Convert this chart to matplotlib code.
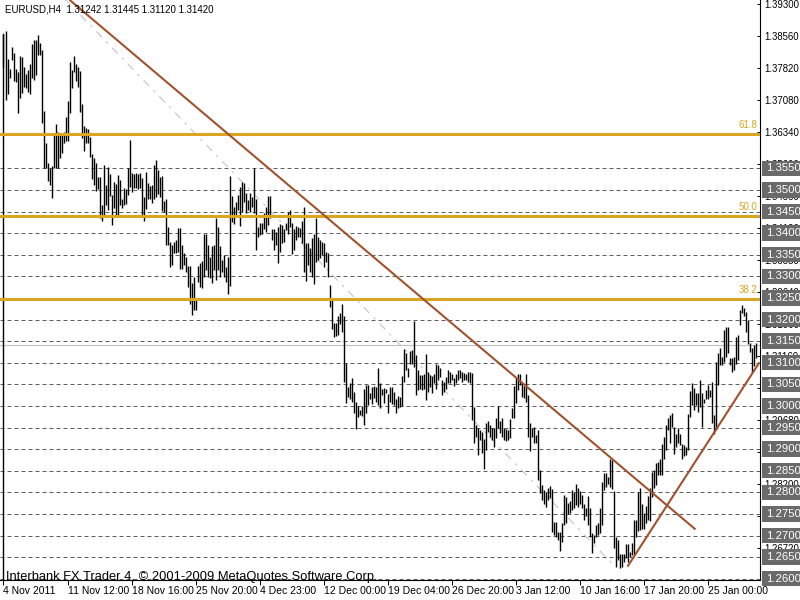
import matplotlib.pyplot as plt
import matplotlib.transforms as mtransforms
from matplotlib.patches import Rectangle
import numpy as np

plt.rcParams['font.family'] = ['Liberation Sans', 'DejaVu Sans']

# EURUSD H4 bars (high / low of each bar)
symbol = "EURUSD,H4"
last_bar = [1.31242, 1.31445, 1.31120, 1.31420]  # open high low close

high = [
    # 4 Nov - 15 Nov
    1.3862, 1.3868, 1.3803, 1.3781, 1.3830, 1.3818, 1.3781, 1.3774, 1.3811, 1.3808,
    1.3785, 1.3768, 1.3778, 1.3791, 1.3837, 1.3846, 1.3847, 1.3859, 1.3839, 1.3824,
    1.3683, 1.3608, 1.3563, 1.3550, 1.3555, 1.3631, 1.3653, 1.3633, 1.3632, 1.3631,
    1.3635, 1.3669, 1.3706, 1.3795, 1.3778, 1.3810, 1.3791, 1.3785, 1.3775, 1.3699,
    1.3648, 1.3644, 1.3641, 1.3622, 1.3583, 1.3573, 1.3563, 1.3531, 1.3531, 1.3465,
    1.3558, 1.3511, 1.3554, 1.3537, 1.3488, 1.3519, 1.3514, 1.3534, 1.3524, 1.3480,
    1.3505, 1.3501, 1.3550, 1.3615, 1.3540, 1.3536, 1.3538, 1.3537, 1.3540, 1.3527,
    1.3484, 1.3542, 1.3515, 1.3509,
    # late Nov - early Dec
    1.3511, 1.3558, 1.3569, 1.3546, 1.3531, 1.3532, 1.3475, 1.3480, 1.3415, 1.3380,
    1.3372, 1.3379, 1.3384, 1.3411, 1.3411, 1.3372, 1.3353, 1.3345, 1.3324, 1.3324,
    1.3284, 1.3299, 1.3245, 1.3324, 1.3330, 1.3336, 1.3398, 1.3398, 1.3372, 1.3345,
    1.3369, 1.3372, 1.3436, 1.3413, 1.3370, 1.3338, 1.3349, 1.3322, 1.3345, 1.3532,
    1.3486, 1.3461, 1.3473, 1.3488, 1.3507, 1.3519, 1.3515, 1.3492, 1.3477, 1.3492,
    1.3484, 1.3550, 1.3480, 1.3415, 1.3424, 1.3424, 1.3447, 1.3461, 1.3486, 1.3486,
    1.3409, 1.3409, 1.3403, 1.3415, 1.3422, 1.3419, 1.3409, 1.3424, 1.3450, 1.3454,
    1.3424, 1.3409, 1.3416, 1.3415, 1.3412,
    # Dec
    1.3429, 1.3461, 1.3376, 1.3376, 1.3365, 1.3388, 1.3399, 1.3434, 1.3392, 1.3384,
    1.3380, 1.3376, 1.3357, 1.3355, 1.3280, 1.3247, 1.3192, 1.3191, 1.3208, 1.3214,
    1.3237, 1.3207, 1.3100, 1.3044, 1.3054, 1.3064, 1.3033, 1.3010, 1.2999, 1.2990,
    1.2999, 1.3038, 1.3048, 1.3048, 1.3030, 1.3044, 1.3046, 1.3044, 1.3087, 1.3054,
    1.3038, 1.3042, 1.3040, 1.3027, 1.3044, 1.3043, 1.3033, 1.3017, 1.3023, 1.3020,
    1.3069, 1.3131, 1.3123, 1.3087, 1.3128, 1.3129, 1.3197, 1.3118, 1.3083, 1.3071,
    1.3071, 1.3075, 1.3120, 1.3079, 1.3071, 1.3069, 1.3075, 1.3097, 1.3094, 1.3087,
    1.3060, 1.3056, 1.3068, 1.3083, 1.3079,
    # late Dec - mid Jan
    1.3075, 1.3064, 1.3075, 1.3082, 1.3082, 1.3079, 1.3077, 1.3075, 1.3078, 1.3079,
    1.3077, 1.2998, 1.2956, 1.2948, 1.2944, 1.2940, 1.2923, 1.2961, 1.2966, 1.2956,
    1.2950, 1.2948, 1.2971, 1.3000, 1.2966, 1.2971, 1.2950, 1.2946, 1.2944, 1.2969,
    1.2995, 1.3045, 1.3064, 1.3075, 1.3075, 1.3052, 1.3045, 1.3075, 1.3025, 1.2960,
    1.2948, 1.2952, 1.2933, 1.2944, 1.2852, 1.2817, 1.2805, 1.2801, 1.2809, 1.2814,
    1.2807, 1.2732, 1.2732, 1.2709, 1.2709, 1.2730, 1.2794, 1.2790, 1.2776, 1.2780,
    1.2805, 1.2801, 1.2819, 1.2809, 1.2804, 1.2794, 1.2774, 1.2763, 1.2791, 1.2763,
    1.2705, 1.2701, 1.2724, 1.2730, 1.2763, 1.2825, 1.2845,
    # mid Jan - end
    1.2845, 1.2836, 1.2878, 1.2875, 1.2804, 1.2697, 1.2689, 1.2658, 1.2658, 1.2658,
    1.2680, 1.2680, 1.2662, 1.2682, 1.2736, 1.2737, 1.2801, 1.2809, 1.2774, 1.2753,
    1.2768, 1.2791, 1.2811, 1.2848, 1.2851, 1.2867, 1.2871, 1.2876, 1.2912, 1.2928,
    1.2956, 1.2971, 1.2979, 1.2984, 1.2952, 1.2936, 1.2950, 1.2936, 1.2912, 1.2909,
    1.2905, 1.2981, 1.3035, 1.3052, 1.3041, 1.3029, 1.3031, 1.3061, 1.3029, 1.3017,
    1.3037, 1.3048, 1.3037, 1.3056, 1.2979, 1.3102, 1.3122, 1.3133, 1.3114, 1.3176,
    1.3183, 1.3183, 1.3110, 1.3110, 1.3114, 1.3160, 1.3164, 1.3222, 1.3234, 1.3226,
    1.3218, 1.3200, 1.3145, 1.3133, 1.3141, 1.31445,
]

low = [
    1.3785, 1.3708, 1.3722, 1.3758, 1.3801, 1.3752, 1.3750, 1.3679, 1.3712, 1.3724,
    1.3739, 1.3735, 1.3727, 1.3722, 1.3758, 1.3754, 1.3766, 1.3812, 1.3812, 1.3656,
    1.3550, 1.3550, 1.3520, 1.3511, 1.3482, 1.3551, 1.3551, 1.3550, 1.3575, 1.3585,
    1.3608, 1.3613, 1.3613, 1.3679, 1.3735, 1.3774, 1.3753, 1.3739, 1.3680, 1.3621,
    1.3590, 1.3609, 1.3609, 1.3577, 1.3525, 1.3511, 1.3497, 1.3502, 1.3434, 1.3429,
    1.3443, 1.3466, 1.3453, 1.3487, 1.3419, 1.3459, 1.3442, 1.3443, 1.3465, 1.3457,
    1.3465, 1.3467, 1.3488, 1.3507, 1.3496, 1.3504, 1.3505, 1.3501, 1.3504, 1.3440,
    1.3428, 1.3455, 1.3478, 1.3478,
    1.3470, 1.3480, 1.3484, 1.3490, 1.3484, 1.3451, 1.3450, 1.3372, 1.3372, 1.3322,
    1.3326, 1.3353, 1.3353, 1.3357, 1.3318, 1.3316, 1.3326, 1.3311, 1.3276, 1.3237,
    1.3210, 1.3222, 1.3222, 1.3287, 1.3276, 1.3272, 1.3299, 1.3314, 1.3299, 1.3295,
    1.3285, 1.3314, 1.3291, 1.3314, 1.3299, 1.3311, 1.3299, 1.3287, 1.3258, 1.3277,
    1.3426, 1.3421, 1.3438, 1.3454, 1.3417, 1.3450, 1.3473, 1.3447, 1.3454, 1.3450,
    1.3461, 1.3446, 1.3362, 1.3392, 1.3396, 1.3399, 1.3409, 1.3403, 1.3419, 1.3434,
    1.3384, 1.3361, 1.3372, 1.3331, 1.3357, 1.3376, 1.3380, 1.3407, 1.3399, 1.3415,
    1.3352, 1.3362, 1.3384, 1.3390, 1.3392,
    1.3376, 1.3311, 1.3288, 1.3326, 1.3311, 1.3299, 1.3282, 1.3334, 1.3338, 1.3342,
    1.3349, 1.3322, 1.3334, 1.3299, 1.3230, 1.3177, 1.3160, 1.3162, 1.3164, 1.3189,
    1.3172, 1.3056, 1.3007, 1.3021, 1.3015, 1.3010, 1.2983, 1.2946, 1.2975, 1.2979,
    1.2976, 1.2956, 1.2983, 1.3002, 1.3015, 1.3004, 1.3019, 1.3010, 1.3002, 1.2994,
    1.3025, 1.3006, 1.3029, 1.2983, 1.3010, 1.3004, 1.3002, 1.2983, 1.2994, 1.2998,
    1.2999, 1.3056, 1.3084, 1.3068, 1.3098, 1.3098, 1.3091, 1.3025, 1.3037, 1.3040,
    1.3037, 1.3040, 1.3013, 1.3033, 1.3044, 1.3030, 1.3052, 1.3040, 1.3060, 1.3066,
    1.3025, 1.3033, 1.3038, 1.3052, 1.3054,
    1.3060, 1.3045, 1.3054, 1.3061, 1.3064, 1.3056, 1.3061, 1.3060, 1.3056, 1.3052,
    1.2967, 1.2913, 1.2929, 1.2886, 1.2921, 1.2890, 1.2855, 1.2898, 1.2940, 1.2929,
    1.2921, 1.2904, 1.2925, 1.2948, 1.2937, 1.2927, 1.2921, 1.2919, 1.2921, 1.2925,
    1.2971, 1.2971, 1.3006, 1.3037, 1.3048, 1.3021, 1.3018, 1.3010, 1.2929, 1.2896,
    1.2929, 1.2915, 1.2913, 1.2828, 1.2798, 1.2782, 1.2774, 1.2767, 1.2782, 1.2786,
    1.2709, 1.2701, 1.2697, 1.2689, 1.2665, 1.2686, 1.2724, 1.2730, 1.2750, 1.2751,
    1.2759, 1.2763, 1.2770, 1.2767, 1.2774, 1.2763, 1.2736, 1.2744, 1.2724, 1.2697,
    1.2660, 1.2683, 1.2697, 1.2701, 1.2705, 1.2724, 1.2805,
    1.2813, 1.2820, 1.2813, 1.2807, 1.2672, 1.2628, 1.2643, 1.2624, 1.2628, 1.2639,
    1.2647, 1.2639, 1.2651, 1.2655, 1.2658, 1.2697, 1.2711, 1.2712, 1.2714, 1.2716,
    1.2728, 1.2736, 1.2734, 1.2790, 1.2809, 1.2817, 1.2840, 1.2840, 1.2840, 1.2878,
    1.2898, 1.2944, 1.2913, 1.2952, 1.2888, 1.2905, 1.2915, 1.2909, 1.2876, 1.2884,
    1.2886, 1.2898, 1.2975, 1.3002, 1.2990, 1.3002, 1.2986, 1.2998, 1.2952, 1.3006,
    1.3017, 1.3017, 1.3020, 1.2961, 1.2936, 1.2944, 1.3048, 1.3095, 1.3095, 1.3102,
    1.3114, 1.3122, 1.3095, 1.3079, 1.3083, 1.3098, 1.3106, 1.3187, 1.3216, 1.3207,
    1.3172, 1.3143, 1.3125, 1.3079, 1.3092, 1.31120,
]

time_labels = ["4 Nov 2011", "11 Nov 12:00", "18 Nov 16:00", "25 Nov 20:00",
               "4 Dec 23:00", "12 Dec 00:00", "19 Dec 04:00", "26 Dec 20:00",
               "3 Jan 12:00", "10 Jan 16:00", "17 Jan 20:00", "25 Jan 00:00"]
label_every = 32

# horizontal lines drawn on the chart
level_lines = [1.3550, 1.3500, 1.3450, 1.3400, 1.3350, 1.3300, 1.3250, 1.3200,
               1.3150, 1.3100, 1.3050, 1.3000, 1.2950, 1.2900, 1.2850, 1.2800,
               1.2750, 1.2700, 1.2650, 1.2600]
scale_ticks = [1.39300, 1.38560, 1.37820, 1.37080, 1.36340, 1.35600, 1.34860,
               1.34120, 1.33380, 1.32640, 1.31900, 1.31160, 1.30420, 1.29680,
               1.28940, 1.28200, 1.27460, 1.26720]

# fibonacci retracement anchors (bar, price) and levels shown
fib_anchor = [(-33, 1.4246), (305, 1.2632)]
fib_ratios = [0.618, 0.500, 0.382]
fib_names = ["61.8", "50.0", "38.2"]

# trend lines (bar, price)
trend_down = [(33, 1.3940), (346, 1.2714)]
trend_up = [(312, 1.2628), (378, 1.3101)]

bars = np.arange(len(high))

fig = plt.figure(figsize=(8, 6), dpi=100)
ax = fig.add_axes([0, 20 / 600, 760 / 800, 580 / 600])
ax.set_xlim(-1.75, 378.25)
ax.set_ylim(1.25970, 1.39396)

for lv in level_lines:
    ax.axhline(lv, color='#606060', lw=0.72, linestyle=(0, (4, 3)), zorder=1)

# bid line
ax.axhline(last_bar[3], color='#c0c0c0', lw=0.8, zorder=1)

# fibo diagonal
ax.plot([fib_anchor[0][0], fib_anchor[1][0]], [fib_anchor[0][1], fib_anchor[1][1]],
        color='#c0c0c0', lw=0.75, linestyle=(0, (7.7, 5.8, 2.4, 5.8)), zorder=2)

# the bars
ax.vlines(bars, low, high, color='black', lw=1.0, zorder=3)
ax.plot([0, 0], [ax.get_ylim()[0], high[0]], color='black', lw=1.0, zorder=3)

p_hi, p_lo = fib_anchor[0][1], fib_anchor[1][1]
for r, name in zip(fib_ratios, fib_names):
    lv = p_lo + r * (p_hi - p_lo)
    ax.axhline(lv, color='#daa520', lw=2.2, zorder=4)
    ax.text(377, lv + 0.0009, name, color='#daa520', fontsize=7, ha='right',
            va='bottom', zorder=4)

ax.plot([p[0] for p in trend_down], [p[1] for p in trend_down],
        color='#a0522d', lw=1.5, zorder=5, solid_capstyle='butt')
ax.plot([p[0] for p in trend_up], [p[1] for p in trend_up],
        color='#a0522d', lw=1.5, zorder=5, solid_capstyle='butt')

# axes look
for s in ['top', 'left']:
    ax.spines[s].set_visible(False)
ax.spines['right'].set_linewidth(0.8)
ax.spines['bottom'].set_linewidth(0.8)

ax.yaxis.tick_right()
ax.set_yticks(scale_ticks)
ax.set_yticklabels(["%.5f" % t for t in scale_ticks])
ax.tick_params(axis='y', direction='in', length=2.5, width=0.7, labelsize=6.9, pad=3)

ax.set_xticks(bars[::label_every])
ax.set_xticklabels(time_labels)
ax.tick_params(axis='x', direction='out', length=3.5, width=0.7, labelsize=7.5, pad=1)
for lab in ax.get_xticklabels():
    lab.set_horizontalalignment('left')

# grey price boxes on the right scale
trans = mtransforms.blended_transform_factory(fig.transFigure, ax.transData)
for lv in level_lines:
    ax.add_patch(Rectangle((762 / 800, lv - 0.0018), 40 / 800, 0.0036,
                           transform=trans, facecolor='#6a6a6a', edgecolor='none',
                           clip_on=False, zorder=6))
    ax.text(766 / 800, lv, "%.4f" % lv, transform=trans, color='white', fontsize=8.2,
            ha='left', va='center', clip_on=False, zorder=7)

fig.text(5 / 800, 1 - 10 / 600,
         symbol + "  " + " ".join("%.5f" % v for v in last_bar),
         fontsize=7, ha='left', va='center')
fig.text(6 / 800, 1 - 577 / 600,
         "Interbank FX Trader 4, \u00a9 2001-2009 MetaQuotes Software Corp.",
         fontsize=9.3, ha='left', va='center', zorder=8)

fig.savefig("out.png", dpi=100)
